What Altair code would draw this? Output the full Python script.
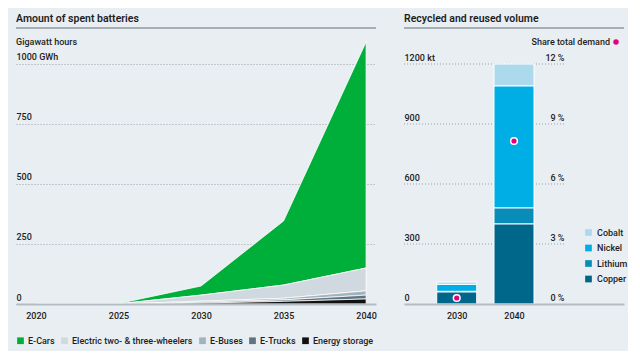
import altair as alt
import pandas as pd

FONT = "Roboto"
BG = "#e8eef2"
TXT = "#1e1e1e"
GRID = "#9aa5ab"
AXISLINE = "#b3bdc3"
FW = 500

# ---------------- data: spent batteries (GWh) ----------------
years = [2020, 2025, 2030, 2035, 2040]
battery_cats = ["E-Cars", "Electric two- & three-wheelers", "E-Buses", "E-Trucks", "Energy storage"]
battery_colors = ["#00ae3a", "#cfd9df", "#a3b3bd", "#5d7482", "#111111"]
e_cars = [0, 1, 38, 267, 942]
wheelers = [0, 1, 25, 55, 95]
e_buses = [0, 0, 4, 7, 18]
e_trucks = [0, 0, 4, 6, 16]
storage = [0, 0, 4, 11, 21]
y_ticks_left = [0, 250, 500, 750, 1000]
x_ticks_left = [2020, 2025, 2030, 2035, 2040]

# ---------------- data: recycled volume (kt) ----------------
vol_years = [2030, 2040]
metals = ["Cobalt", "Nickel", "Lithium", "Copper"]
metal_colors = ["#acd9ec", "#00aee6", "#0a8cb8", "#00668a"]
copper = [60, 400]
lithium = [3, 80]
nickel = [35, 610]
cobalt = [12, 110]
share_pct = [0.3, 8.15]
y_ticks_right = [0, 300, 600, 900, 1200]
pct_ticks = [0, 3, 6, 9, 12]

# ---------------- tables ----------------
series = [e_cars, wheelers, e_buses, e_trucks, storage]
rows = []
for i, (c, vals) in enumerate(zip(battery_cats, series)):
    for y, v in zip(years, vals):
        rows.append({"year": y, "cat": c, "value": v, "ord": len(battery_cats) - i})
df_area = pd.DataFrame(rows)

mseries = [cobalt, nickel, lithium, copper]
rows = []
for i, (m, vals) in enumerate(zip(metals, mseries)):
    for y, v in zip(vol_years, vals):
        rows.append({"year": y, "metal": m, "kt": v, "ord": len(metals) - i})
df_bar = pd.DataFrame(rows)
df_share = pd.DataFrame({"year": vol_years, "share": share_pct})
df_grid_r = pd.DataFrame({"g": y_ticks_right[1:]})

LW, RW, H = 360, 220, 265
KT_MAX = 1325
PCT_MAX = 13.25


def one(text):
    return pd.DataFrame({"t": [text]})


def header(text, width):
    t = alt.Chart(one(text)).mark_text(
        align="left", baseline="alphabetic", font=FONT, fontSize=10.5,
        fontWeight=600, color=TXT
    ).encode(text="t:N", x=alt.value(0), y=alt.value(-17))
    r = alt.Chart(one("r")).mark_rule(color="#8e989e", strokeWidth=1.5).encode(
        x=alt.value(0), x2=alt.value(width), y=alt.value(-11)
    )
    return t, r


# ---------------- left panel ----------------
x_left = alt.X(
    "year:Q",
    scale=alt.Scale(domain=[2018.79, 2040.6], nice=False, zero=False),
    axis=alt.Axis(values=x_ticks_left, format="d", title=None, grid=False, ticks=False,
                  domain=True, domainColor=AXISLINE, domainWidth=2, labelPadding=7,
                  labelFlush=False, zindex=1, labelFont=FONT, labelFontSize=9,
                  labelFontWeight=FW, labelColor=TXT),
)
y_left = alt.Y(
    "value:Q", stack="zero",
    scale=alt.Scale(domain=[0, 1104], nice=False),
    axis=alt.Axis(values=y_ticks_left, format="d", title=None, domain=False, ticks=False,
                  labelExpr="datum.value == 1000 ? '1000 GWh' : datum.label",
                  labelAlign="left", labelBaseline="bottom", labelPadding=0, labelOffset=-2,
                  grid=True, gridDash=[1, 2], gridColor=GRID, gridWidth=1,
                  labelFont=FONT, labelFontSize=9, labelFontWeight=FW, labelColor=TXT),
)
area = alt.Chart(df_area).mark_area(stroke="white", strokeWidth=0.8, interpolate="linear").encode(
    x=x_left,
    y=y_left,
    color=alt.Color("cat:N", scale=alt.Scale(domain=battery_cats, range=battery_colors),
                    legend=alt.Legend(orient="none", legendX=0, legendY=297, direction="horizontal",
                                      title=None, symbolType="square", symbolSize=45,
                                      symbolStrokeWidth=0, labelFont=FONT, labelFontSize=9,
                                      labelFontWeight=FW, labelColor=TXT, columnPadding=5,
                                      labelOffset=3)),
    order=alt.Order("ord:Q"),
)
lt, lr = header("Amount of spent batteries", LW)
unit_left = alt.Chart(one("Gigawatt hours")).mark_text(
    align="left", baseline="middle", font=FONT, fontSize=9, fontWeight=FW, color=TXT
).encode(text="t:N", x=alt.value(0), y=alt.value(3))
left = alt.layer(area, lt, lr, unit_left).properties(width=LW, height=H)

# ---------------- right panel ----------------
x_right = alt.X(
    "year:Q",
    scale=alt.Scale(domain=[2021.667, 2058.333], nice=False, zero=False),
    axis=alt.Axis(values=vol_years, format="d", title=None, grid=False, ticks=False,
                  domain=True, domainColor=AXISLINE, domainWidth=2, labelPadding=7,
                  labelFlush=False, zindex=1, labelFont=FONT, labelFontSize=9,
                  labelFontWeight=FW, labelColor=TXT),
)
grid_r = alt.Chart(df_grid_r).mark_rule(strokeDash=[1, 2], color=GRID, strokeWidth=1).encode(
    y=alt.Y("g:Q", scale=alt.Scale(domain=[0, KT_MAX], nice=False), axis=None),
    x=alt.value(0), x2=alt.value(160),
)
bars = alt.Chart(df_bar).mark_bar(size=40, stroke="white", strokeWidth=1).encode(
    x=x_right,
    y=alt.Y("kt:Q", stack="zero", scale=alt.Scale(domain=[0, KT_MAX], nice=False),
            axis=alt.Axis(values=y_ticks_right, format="d", title=None, domain=False, ticks=False,
                          labelExpr="datum.value == 1200 ? '1200 kt' : datum.label",
                          labelAlign="left", labelBaseline="bottom", labelPadding=0,
                          labelOffset=-2, grid=False, labelFont=FONT, labelFontSize=9,
                          labelFontWeight=FW, labelColor=TXT)),
    color=alt.Color("metal:N", scale=alt.Scale(domain=metals, range=metal_colors),
                    legend=alt.Legend(orient="none", legendX=180, legendY=189, direction="vertical",
                                      title=None, symbolType="square", symbolSize=45,
                                      symbolStrokeWidth=0, labelFont=FONT, labelFontSize=9,
                                      labelFontWeight=FW, labelColor=TXT, rowPadding=5.5,
                                      labelOffset=4)),
    order=alt.Order("ord:Q"),
)
points = alt.Chart(df_share).mark_point(filled=True, size=45, color="#e5007d", stroke="white",
                                         strokeWidth=1.5, opacity=1).encode(
    x=x_right,
    y=alt.Y("share:Q", scale=alt.Scale(domain=[0, PCT_MAX], nice=False),
            axis=alt.Axis(orient="right", offset=-60, values=pct_ticks, title=None, domain=False,
                          ticks=False, labelExpr="datum.value + ' %'", labelAlign="right",
                          labelBaseline="bottom", labelPadding=0, labelOffset=-2, grid=False,
                          labelFont=FONT, labelFontSize=9, labelFontWeight=FW, labelColor=TXT)),
)
rt, rr = header("Recycled and reused volume", RW)
share_lbl = alt.Chart(one("Share total demand")).mark_text(
    align="right", baseline="middle", font=FONT, fontSize=9, fontWeight=FW, color=TXT
).encode(text="t:N", x=alt.value(206), y=alt.value(3))
share_dot = alt.Chart(one("d")).mark_point(filled=True, size=30, color="#e5007d", opacity=1).encode(
    x=alt.value(212), y=alt.value(3)
)
right = alt.layer(grid_r, bars, points, rt, rr, share_lbl, share_dot).resolve_scale(
    y="independent"
).properties(width=RW, height=H)

chart = alt.hconcat(left, right, spacing=26).resolve_scale(color="independent").properties(
    background=BG,
    padding={"left": 7, "top": 6, "right": 0, "bottom": 5},
    autosize=alt.AutoSizeParams(type="pad"),
).configure_view(stroke=None)

chart.save("out.html", embed_options={"renderer": "svg", "actions": False})
